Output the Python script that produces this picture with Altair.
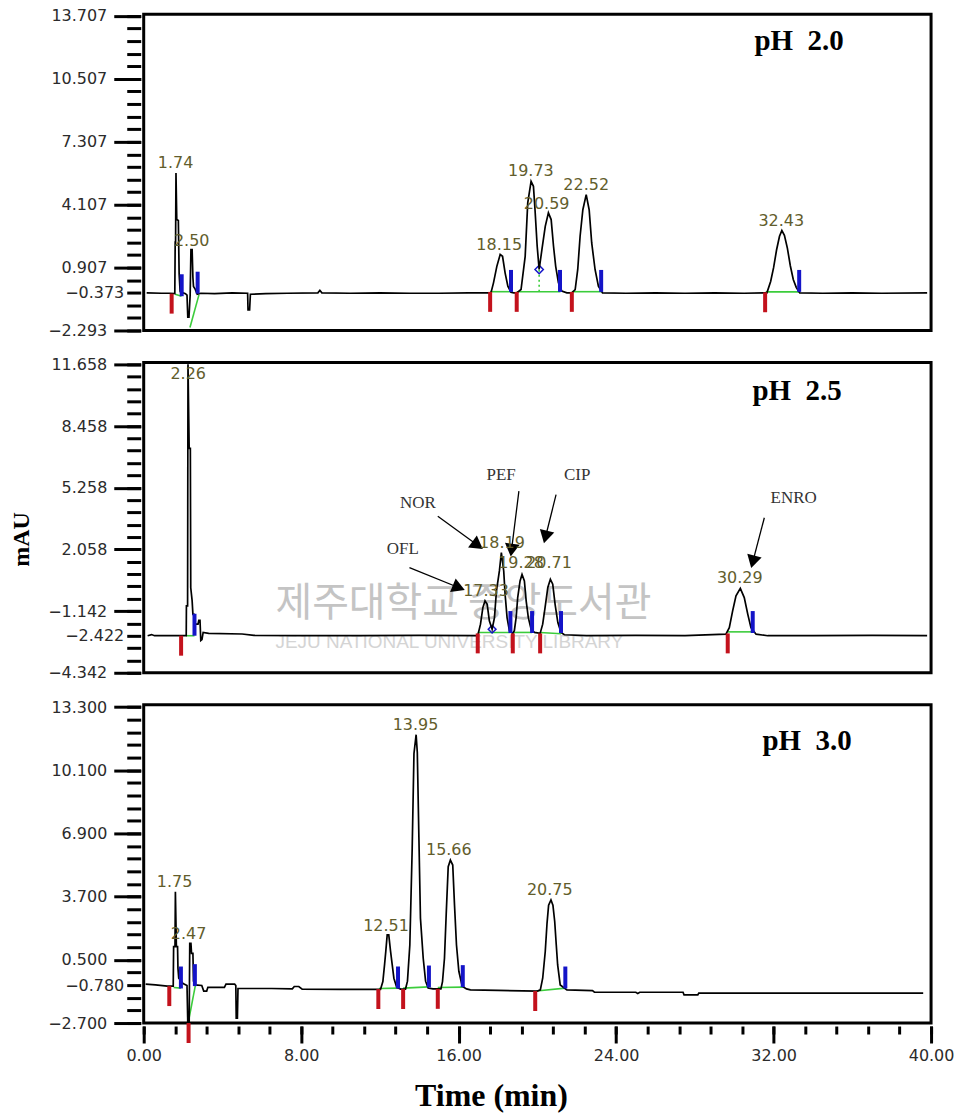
import math
import altair as alt
import pandas as pd

# ---------------- Panel 1 : pH 2.0 ----------------
p1_trace = [(0.15, -0.38), (0.9, -0.40), (1.3, -0.40), (1.58, -0.42), (1.60, 2.2), (1.62, 2.2), (1.64, 5.72),
            (1.68, 3.35), (1.76, 3.30), (1.80, 0.60), (1.85, -0.30), (1.92, -0.45), (2.02, -0.38), (2.12, -0.42),
            (2.20, -0.50), (2.24, -1.62), (2.30, -1.62), (2.36, -0.50), (2.40, 1.82), (2.46, 1.82), (2.50, 0.40),
            (2.53, -0.05), (2.62, -0.20), (2.72, -0.45), (2.90, -0.40), (3.6, -0.42), (4.5, -0.38), (5.28, -0.40),
            (5.30, -1.25), (5.38, -1.25), (5.42, -0.45), (6.2, -0.42), (7.3, -0.40), (8.85, -0.38), (8.95, -0.25),
            (9.05, -0.38), (10.5, -0.40), (12.0, -0.38), (13.5, -0.40), (15.0, -0.40), (16.5, -0.38), (17.64, -0.38),
            (17.77, 0.13), (17.94, 0.97), (18.11, 1.57), (18.23, 1.48), (18.36, 0.64), (18.50, -0.04), (18.66, -0.35),
            (18.80, -0.38), (18.95, -0.38), (19.17, -0.21), (19.38, 1.48), (19.51, 4.20), (19.68, 5.29), (19.80, 5.04),
            (19.88, 3.85), (19.99, 1.99), (20.09, 0.81), (20.23, 1.82), (20.40, 3.00), (20.56, 3.69), (20.70, 3.35),
            (20.82, 1.99), (20.93, 0.97), (21.07, 0.13), (21.24, -0.29), (21.50, -0.38), (21.75, -0.38), (21.92, -0.21),
            (22.05, 0.81), (22.17, 2.50), (22.31, 3.85), (22.48, 4.62), (22.63, 3.85), (22.76, 2.16), (22.93, 0.81),
            (23.10, -0.04), (23.31, -0.38), (24.5, -0.40), (26.0, -0.38), (27.5, -0.40), (29.0, -0.38), (30.5, -0.40),
            (31.66, -0.38), (31.85, 0.20), (32.00, 0.90), (32.15, 1.80), (32.30, 2.50), (32.42, 2.79), (32.55, 2.55),
            (32.70, 1.90), (32.85, 1.00), (33.00, 0.30), (33.15, -0.10), (33.33, -0.38), (34.5, -0.40), (36.0, -0.38),
            (37.5, -0.40), (39.8, -0.38)]
p1_labels = ["1.74", "2.50", "18.15", "19.73", "20.59", "22.52", "32.43"]
p1_label_t = [1.62, 2.44, 18.06, 19.67, 20.47, 22.48, 32.39]
p1_label_v = [5.97, 2.03, 1.82, 5.55, 3.90, 4.83, 3.01]
p1_red_t = [1.42, 17.60, 18.95, 21.75, 31.57]
p1_red_v = [-0.42, -0.33, -0.33, -0.33, -0.35]
p1_blue_t = [1.93, 2.74, 18.66, 21.15, 23.24, 33.30]
p1_blue_v = [-0.55, -0.42, -0.33, -0.33, -0.33, -0.33]
p1_green = [(1.60, -0.45, 1.92, -0.55), (2.35, -2.14, 2.81, -0.47), (17.60, -0.32, 18.66, -0.32),
            (18.95, -0.32, 21.17, -0.32), (21.75, -0.32, 23.25, -0.32), (31.60, -0.33, 33.30, -0.33)]
p1_drop = [(20.09, -0.32, 0.81)]
p1_y_major = [13.707, 10.507, 7.307, 4.107, 0.907, -2.293]
p1_y_base = -0.373

# ---------------- Panel 2 : pH 2.5 ----------------
p2_trace = [(0.2, -2.42), (0.4, -2.36), (0.55, -2.42), (1.5, -2.42), (2.16, -2.42), (2.17, -0.87), (2.23, -0.87),
            (2.25, 11.66), (2.31, 7.3), (2.37, 7.3), (2.39, 0.07), (2.46, -0.6), (2.50, -1.31), (2.56, -1.31),
            (2.62, -1.82), (2.76, -1.82), (2.80, -1.62), (2.86, -1.62), (2.90, -2.67), (2.96, -2.62), (3.02, -2.25),
            (3.3, -2.30), (5.0, -2.33), (5.6, -2.40), (8.0, -2.42), (11.0, -2.42), (14.0, -2.40), (16.97, -2.42),
            (17.11, -1.82), (17.23, -0.96), (17.34, -0.61), (17.45, -0.79), (17.56, -1.65), (17.70, -2.08),
            (17.82, -1.48), (17.92, -0.10), (18.07, 0.94), (18.17, 1.89), (18.29, 0.94), (18.36, -0.27),
            (18.46, -1.48), (18.58, -2.16), (18.75, -2.30), (18.83, -2.16), (18.92, -1.48), (19.00, -0.44),
            (19.12, 0.42), (19.22, 0.76), (19.34, 0.42), (19.43, -0.61), (19.54, -1.48), (19.68, -2.08),
            (19.85, -2.25), (20.14, -2.30), (20.27, -1.82), (20.39, -0.96), (20.53, 0.08), (20.66, 0.51),
            (20.78, 0.25), (20.90, -0.79), (21.04, -1.74), (21.20, -2.25), (21.37, -2.37), (22.5, -2.42),
            (25.0, -2.40), (27.5, -2.42), (29.58, -2.34), (29.75, -2.0), (29.92, -1.13), (30.09, -0.35),
            (30.31, 0.04), (30.51, -0.44), (30.69, -1.31), (30.85, -2.0), (31.11, -2.34), (31.7, -2.42),
            (34.0, -2.42), (37.0, -2.40), (39.8, -2.42)]
p2_labels = ["2.26", "17.33", "18.19", "19.28", "20.71", "30.29"]
p2_label_t = [2.26, 17.39, 18.20, 19.17, 20.59, 30.28]
p2_label_v = [10.88, -0.34, 2.14, 1.11, 1.11, 0.30]
p2_red_t = [1.90, 16.97, 18.75, 20.14, 29.67]
p2_red_v = [-2.42, -2.30, -2.30, -2.30, -2.30]
p2_blue_t = [2.58, 18.63, 19.73, 21.20, 30.94]
p2_blue_v = [-2.42, -2.28, -2.28, -2.28, -2.28]
p2_green = [(2.16, -2.42, 2.58, -2.42), (16.97, -2.25, 18.63, -2.25), (18.75, -2.25, 19.73, -2.25),
            (20.14, -2.25, 21.20, -2.32), (29.67, -2.22, 30.94, -2.22)]
p2_y_major = [11.658, 8.458, 5.258, 2.058, -1.142, -4.342]
p2_y_base = -2.422
ann_text = ["OFL", "NOR", "PEF", "CIP", "ENRO"]
ann_text_t = [13.16, 13.93, 18.16, 22.02, 33.02]
ann_text_v = [2.06, 4.47, 5.93, 5.90, 4.73]
ann_from_t = [13.50, 14.94, 19.06, 20.95, 31.53]
ann_from_v = [1.11, 3.78, 5.08, 4.90, 3.70]
ann_to_t = [16.21, 17.14, 18.66, 20.36, 30.89]
ann_to_v = [-0.01, 2.14, 1.80, 2.49, 1.20]

# ---------------- Panel 3 : pH 3.0 ----------------
p3_trace = [(0.1, -0.73), (0.6, -0.77), (1.2, -0.83), (1.50, -0.83), (1.52, 1.17), (1.59, 1.17), (1.61, 3.95),
            (1.66, 1.17), (1.72, 1.17), (1.74, 0.08), (1.78, -0.43), (1.88, -0.55), (2.00, -0.70), (2.20, -0.80),
            (2.24, -2.70), (2.31, -2.70), (2.34, 1.34), (2.40, 1.34), (2.43, 0.83), (2.50, 0.83), (2.53, -0.58),
            (2.60, -0.77), (2.95, -0.80), (3.05, -1.08), (3.20, -1.08), (3.26, -0.89), (4.10, -0.89), (4.18, -0.73),
            (4.62, -0.73), (4.68, -0.80), (4.70, -2.45), (4.76, -2.45), (4.79, -0.95), (6.5, -0.95), (7.55, -0.97),
            (7.65, -0.85), (7.88, -0.85), (8.05, -0.98), (10.0, -1.0), (11.92, -1.0), (12.03, -1.0), (12.15, -0.6),
            (12.24, 0.3), (12.30, 0.94), (12.37, 1.76), (12.45, 1.76), (12.54, 0.94), (12.62, 0.3), (12.71, -0.43),
            (12.85, -0.88), (13.05, -0.98), (13.30, -0.98), (13.40, -0.58), (13.52, 1.25), (13.64, 6.14),
            (13.73, 10.94), (13.84, 11.9), (13.90, 11.0), (13.98, 6.73), (14.06, 2.6), (14.20, 0.58), (14.32, -0.58),
            (14.45, -0.93), (14.7, -0.97), (15.10, -0.97), (15.18, -0.60), (15.28, 0.58), (15.37, 2.86),
            (15.47, 5.22), (15.58, 5.55), (15.70, 5.30), (15.79, 3.27), (15.89, 1.25), (16.01, -0.08),
            (16.18, -0.83), (16.4, -0.97), (16.6, -1.02), (18.0, -1.05), (20.0, -1.08), (20.15, -1.02),
            (20.27, -0.43), (20.40, 0.92), (20.49, 2.35), (20.57, 3.27), (20.69, 3.53), (20.79, 3.27),
            (20.88, 2.44), (20.96, 1.25), (21.03, 0.24), (21.16, -0.77), (21.5, -1.02), (22.8, -1.06),
            (22.9, -1.14), (25.0, -1.14), (25.1, -1.20), (25.2, -1.14), (27.4, -1.14), (27.45, -1.27),
            (28.15, -1.27), (28.2, -1.18), (33.0, -1.19), (39.6, -1.19)]
p3_labels = ["1.75", "2.47", "12.51", "13.95", "15.66", "20.75"]
p3_label_t = [1.57, 2.28, 12.31, 13.81, 15.50, 20.63]
p3_label_v = [4.17, 1.55, 1.96, 12.12, 5.80, 3.78]
p3_red_t = [1.30, 2.28, 11.92, 13.18, 14.94, 19.89]
p3_red_v = [-0.83, -2.70, -0.98, -0.98, -0.97, -1.08]
p3_blue_t = [1.89, 2.60, 12.92, 14.49, 16.21, 21.42]
p3_blue_v = [-0.95, -0.83, -0.95, -0.90, -0.88, -0.95]
p3_green = [(1.52, -0.90, 1.89, -0.93), (2.26, -2.70, 2.62, -0.82), (11.95, -0.95, 12.92, -0.93),
            (13.18, -0.93, 14.49, -0.87), (14.94, -0.90, 16.21, -0.88), (19.95, -1.08, 21.42, -0.93)]
p3_y_major = [13.300, 10.100, 6.900, 3.700, 0.500, -2.700]
p3_y_base = -0.780

x_major = [0, 8, 16, 24, 32, 40]
x_minor_step = 1.6
y_minor_step = 0.64

# ---------------- styling ----------------
W = 789
FONT = "DejaVu Sans"
SERIF = "Liberation Serif"
LBL = "#2b2b2b"
PEAK = "#625d2c"
RED = "#c3121c"
BLUE = "#1414c8"
GREEN = "#3bcc3b"
XS = alt.Scale(domain=[0, 40], nice=False, zero=False)


def y_axes(majors, base, title=None, title_y=None):
    lo = majors[-1]
    minors = [round(lo + y_minor_step * k, 3) for k in range(26)]
    kw = dict(format=".3f", orient="left", offset=3, tickWidth=3, tickColor="black", domain=False,
              grid=False, labelFont=FONT, labelFontSize=16, labelColor=LBL, labelOverlap=False,
              labelFlush=False)
    major = alt.Axis(values=majors, tickSize=27, labelPadding=7, title=title, titleFont=SERIF,
                     titleFontSize=24, titleFontWeight="bold", titleColor="black", titlePadding=14,
                     **({"titleY": title_y} if title_y is not None else {}), **kw)
    minor = alt.Axis(values=minors, tickSize=14, labelPadding=3, title=None,
                     labelExpr=f"abs(datum.value - ({base})) < 0.001 ? format(datum.value, '.3f') : ''", **kw)
    return major, minor


def panel(trace, labels, lt, lv, red_t, red_v, blue_t, blue_v, green, lo, hi, H, majors, base,
          ph_text, ph_x, ph_y, y_title=None, title_y=None, x_axes=False, pre=(), post=()):
    ys = alt.Scale(domain=[lo, hi], nice=False, zero=False)
    ymaj, ymin = y_axes(majors, base, y_title, title_y)
    if x_axes:
        xmaj = alt.Axis(values=x_major, format=".2f", orient="bottom", offset=3, tickSize=17, tickWidth=3,
                        tickColor="black", domain=False, grid=False, labelFont=FONT, labelFontSize=16,
                        labelColor=LBL, labelPadding=5, labelFlush=False, labelOverlap=False,
                        title="Time (min)", titleFont=SERIF, titleFontSize=32, titleFontWeight="bold",
                        titleColor="black", titlePadding=17, titleX=348)
        xmin = alt.Axis(values=[round(x_minor_step * k, 1) for k in range(26)], orient="bottom", offset=3,
                        tickSize=8, tickWidth=3, tickColor="black", labels=False, domain=False, grid=False,
                        title=None)
    else:
        xmaj = None
        xmin = None

    df_tr = pd.DataFrame({"t": [p[0] for p in trace], "v": [p[1] for p in trace],
                          "i": list(range(len(trace)))})
    df_g = pd.DataFrame({"t1": [g[0] for g in green], "v1": [g[1] for g in green],
                         "t2": [g[2] for g in green], "v2": [g[3] for g in green]})
    df_red = pd.DataFrame({"t": red_t, "v": red_v})
    df_blue = pd.DataFrame({"t": blue_t, "v": blue_v})
    df_lab = pd.DataFrame({"t": lt, "v": lv, "s": labels})

    green_l = alt.Chart(df_g).mark_rule(color=GREEN, strokeWidth=1.6).encode(
        x=alt.X("t1:Q", scale=XS, axis=xmin), x2="t2:Q",
        y=alt.Y("v1:Q", scale=ys, axis=ymin), y2="v2:Q")
    trace_l = alt.Chart(df_tr).mark_line(color="black", strokeWidth=1.7).encode(
        x=alt.X("t:Q", scale=XS, axis=xmaj), y=alt.Y("v:Q", scale=ys, axis=ymaj), order="i:Q")
    red_l = alt.Chart(df_red).mark_tick(orient="vertical", color=RED, thickness=4, size=20, yOffset=10,
                                         opacity=1).encode(
        x=alt.X("t:Q", scale=XS, axis=None), y=alt.Y("v:Q", scale=ys, axis=None))
    blue_l = alt.Chart(df_blue).mark_tick(orient="vertical", color=BLUE, thickness=4, size=22, yOffset=-11,
                                           opacity=1).encode(
        x=alt.X("t:Q", scale=XS, axis=None), y=alt.Y("v:Q", scale=ys, axis=None))
    lab_l = alt.Chart(df_lab).mark_text(font=FONT, fontSize=16, color=PEAK, align="center",
                                        baseline="alphabetic").encode(
        x=alt.X("t:Q", scale=XS, axis=None), y=alt.Y("v:Q", scale=ys, axis=None), text="s:N")
    ph_l = alt.Chart(pd.DataFrame({"s": [ph_text]})).mark_text(
        font=SERIF, fontSize=29, fontWeight="bold", color="black", align="left", baseline="alphabetic").encode(
        x=alt.value(ph_x), y=alt.value(ph_y), text="s:N")
    allp = []
    for f in pre:
        allp.extend(f(ys))
    allp.append(green_l)
    for f in post:
        allp.extend(f(ys))
    allp += [trace_l, red_l, blue_l, lab_l, ph_l]
    return alt.layer(*allp).resolve_axis(x="independent", y="independent").properties(width=W, height=H)


def p1_extras(ys):
    d = pd.DataFrame({"t": [x[0] for x in p1_drop], "v1": [x[1] for x in p1_drop], "v2": [x[2] for x in p1_drop]})
    dash = alt.Chart(d).mark_rule(color=GREEN, strokeWidth=1.6, strokeDash=[2, 3]).encode(
        x=alt.X("t:Q", scale=XS, axis=None), y=alt.Y("v1:Q", scale=ys, axis=None), y2="v2:Q")
    dia = alt.Chart(d).mark_point(shape="diamond", filled=False, color=BLUE, size=70, strokeWidth=1.5,
                                  opacity=1).encode(
        x=alt.X("t:Q", scale=XS, axis=None), y=alt.Y("v2:Q", scale=ys, axis=None))
    return [dash, dia]


P2_LO, P2_HI, P2_H = -4.342, 11.76, 311


def p2_water(ys):
    wm = alt.Chart(pd.DataFrame({"s": ["제주대학교 중앙도서관"]})).mark_text(
        font="Noto Sans CJK KR", fontSize=40, color="#c4c4c4", align="left", baseline="middle").encode(
        x=alt.value(132), y=alt.value(242), text="s:N")
    wm2 = alt.Chart(pd.DataFrame({"s": ["JEJU NATIONAL UNIVERSITY LIBRARY"]})).mark_text(
        font="Liberation Sans", fontSize=19, color="#d4d4d4", align="left", baseline="middle").encode(
        x=alt.value(132), y=alt.value(280), text="s:N")
    return [wm, wm2]


def p2_extras(ys):
    px_t = W / 40.0
    px_v = P2_H / (P2_HI - P2_LO)
    size = 220
    h = math.sqrt(3) * (math.sqrt(size) / 2) / 2
    ang, ct, cv = [], [], []
    for ft, fv, tt, tv in zip(ann_from_t, ann_from_v, ann_to_t, ann_to_v):
        dx = (tt - ft) * px_t
        dy = -(tv - fv) * px_v
        L = math.hypot(dx, dy)
        ux, uy = dx / L, dy / L
        ang.append(math.degrees(math.atan2(dx, -dy)) % 360)
        ct.append(tt - h * ux / px_t)
        cv.append(tv + h * uy / px_v)
    d = pd.DataFrame({"ft": ann_from_t, "fv": ann_from_v, "tt": ann_to_t, "tv": ann_to_v,
                      "ct": ct, "cv": cv, "ang": ang,
                      "s": ann_text, "st": ann_text_t, "sv": ann_text_v})
    lines = alt.Chart(d).mark_rule(color="black", strokeWidth=1.3).encode(
        x=alt.X("ft:Q", scale=XS, axis=None), x2="tt:Q", y=alt.Y("fv:Q", scale=ys, axis=None), y2="tv:Q")
    heads = alt.Chart(d).mark_point(shape="triangle", filled=True, color="black", size=size, opacity=1).encode(
        x=alt.X("ct:Q", scale=XS, axis=None), y=alt.Y("cv:Q", scale=ys, axis=None),
        angle=alt.Angle("ang:Q", scale=None))
    txt = alt.Chart(d).mark_text(font=SERIF, fontSize=17, color="#333333", align="center",
                                 baseline="middle").encode(
        x=alt.X("st:Q", scale=XS, axis=None), y=alt.Y("sv:Q", scale=ys, axis=None), text="s:N")
    dd = pd.DataFrame({"t": [17.70], "v": [-2.08]})
    dia = alt.Chart(dd).mark_point(shape="diamond", filled=False, color=BLUE, size=60, strokeWidth=1.5,
                                   opacity=1).encode(
        x=alt.X("t:Q", scale=XS, axis=None), y=alt.Y("v:Q", scale=ys, axis=None))
    return [dia, lines, heads, txt]


NB = "\u00a0"
c1 = panel(p1_trace, p1_labels, p1_label_t, p1_label_v, p1_red_t, p1_red_v, p1_blue_t, p1_blue_v, p1_green,
           -2.293, 13.80, 317, p1_y_major, p1_y_base, "pH" + NB + " 2.0", 612, 36, post=(p1_extras,))
c2 = panel(p2_trace, p2_labels, p2_label_t, p2_label_v, p2_red_t, p2_red_v, p2_blue_t, p2_blue_v, p2_green,
           P2_LO, P2_HI, P2_H, p2_y_major, p2_y_base, "pH" + NB + " 2.5", 610, 38, y_title="mAU", title_y=177,
           pre=(p2_water,), post=(p2_extras,))
c3 = panel(p3_trace, p3_labels, p3_label_t, p3_label_v, p3_red_t, p3_red_v, p3_blue_t, p3_blue_v, p3_green,
           -2.70, 13.42, 319, p3_y_major, p3_y_base, "pH" + NB + " 3.0", 620, 45, x_axes=True)

chart = alt.vconcat(c1, c2, c3, spacing=32, bounds="flush").properties(
    padding={"left": 8, "top": 5, "right": 5, "bottom": 5}, background="white"
).configure_view(stroke="black", strokeWidth=3)

chart.save("out.html", embed_options={"renderer": "svg", "actions": False})
